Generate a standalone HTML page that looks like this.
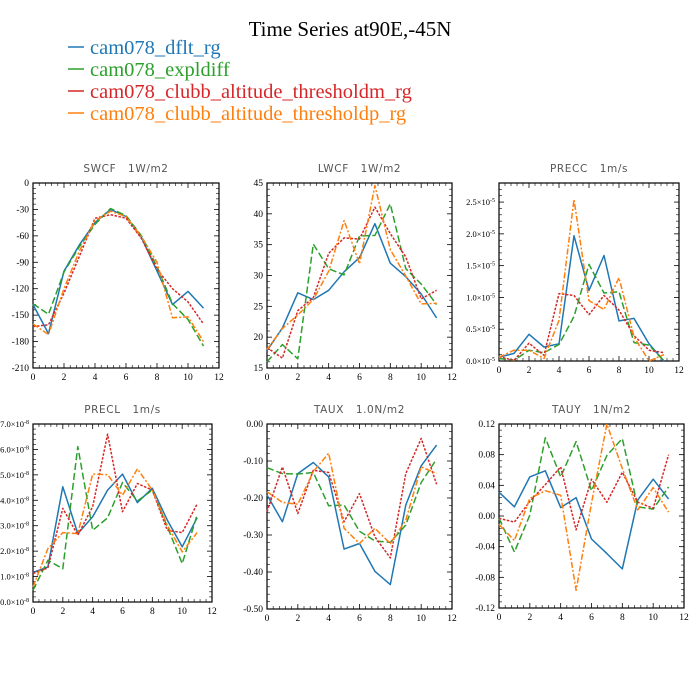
<!DOCTYPE html>
<html><head><meta charset="utf-8"><style>
html,body{margin:0;padding:0;background:#fff;}
svg{display:block;}
text{white-space:pre;}
</style></head><body>
<svg id="chart" width="700" height="700" xmlns="http://www.w3.org/2000/svg">
<text x="350" y="36" text-anchor="middle" font-family="Liberation Serif, serif" font-size="21" fill="#000">Time Series at90E,-45N</text>
<g font-family="Liberation Serif, serif" font-size="20.5">
<g><line x1="68" y1="47" x2="84" y2="47" stroke="#1f77b4" stroke-width="1.5"/><text x="90" y="54" fill="#1f77b4">cam078_dflt_rg</text></g>
<g><line x1="68" y1="69" x2="84" y2="69" stroke="#2ca02c" stroke-width="1.5"/><text x="90" y="76" fill="#2ca02c">cam078_expldiff</text></g>
<g><line x1="68" y1="91" x2="84" y2="91" stroke="#d62728" stroke-width="1.5"/><text x="90" y="98" fill="#d62728">cam078_clubb_altitude_thresholdm_rg</text></g>
<g><line x1="68" y1="113" x2="84" y2="113" stroke="#ff7f0e" stroke-width="1.5"/><text x="90" y="120" fill="#ff7f0e">cam078_clubb_altitude_thresholdp_rg</text></g>
</g>
</svg>
<script>
const months = [0,1,2,3,4,5,6,7,8,9,10,11];
const xTicks = [0,2,4,6,8,10,12];
const seriesNames = ['dflt','expldiff','thresholdm','thresholdp'];
const seriesColors = ['#1f77b4','#2ca02c','#d62728','#ff7f0e'];
const seriesDash = ['', '7,3', '2.5,1.5', '6,2,2,2'];

const swcfDflt = [-138,-171,-100,-70,-45,-30,-38,-62,-100,-138,-123,-142];
const swcfExpl = [-137,-149,-101,-72,-47,-29,-37,-60,-95,-137,-155,-185];
const swcfTm = [-163,-161,-125,-83,-40,-36,-40,-63,-98,-120,-135,-160];
const swcfTp = [-160,-172,-120,-77,-43,-32,-38,-61,-90,-153,-152,-180];
const swcfTicks = [0,-30,-60,-90,-120,-150,-180,-210];

const lwcfDflt = [17.8,21.5,27.2,26.1,27.6,30.6,32.9,38.4,32,29.8,27,23.1];
const lwcfExpl = [16,18.8,16.5,35.1,31.1,30.1,36.4,36.5,41.6,31.1,28.6,25.3];
const lwcfTm = [18.3,16.6,24.3,26.4,33.6,36.1,35.9,41.1,36.8,33,26.2,27.6];
const lwcfTp = [18,21.4,23.6,26.1,30.7,38.9,31.9,44.6,34.2,29.9,25.4,25.5];
const lwcfTicks = [15,20,25,30,35,40,45];

const preccDflt = [0.06,0.12,0.42,0.22,0.27,1.97,1.11,1.66,0.63,0.67,0.27,0];
const preccExpl = [0.04,0.01,0.17,0.13,0.26,0.70,1.52,1.07,1.09,0.29,0.25,0];
const preccTm = [0.07,0.01,0.28,0.09,1.06,1.03,0.73,1.03,0.80,0.40,0.17,0.13];
const preccTp = [0.06,0.17,0.17,0.04,0.64,2.54,0.95,0.81,1.31,0.38,0,0.1];
const preccTicks = [0,0.5,1.0,1.5,2.0,2.5];

const preclDflt = [1.16,1.38,4.53,2.69,3.35,4.40,5.03,3.91,4.47,3.22,2.17,3.31];
const preclExpl = [0.46,1.64,1.31,6.11,2.82,3.31,4.70,3.97,4.40,2.96,1.51,3.42];
const preclTm = [1.12,1.34,3.68,2.63,3.75,6.6,3.55,4.66,4.40,2.82,2.73,3.85];
const preclTp = [0.59,2.10,2.73,2.69,5.03,5.01,4.2,5.24,4.40,3.02,1.97,2.73];
const preclTicks = [0,1,2,3,4,5,6,7];

const tauxDflt = [-0.192,-0.264,-0.134,-0.104,-0.143,-0.338,-0.323,-0.398,-0.434,-0.219,-0.113,-0.057];
const tauxExpl = [-0.118,-0.134,-0.135,-0.131,-0.221,-0.219,-0.290,-0.316,-0.320,-0.273,-0.158,-0.095];
const tauxTm = [-0.237,-0.116,-0.242,-0.125,-0.131,-0.264,-0.188,-0.305,-0.362,-0.134,-0.039,-0.163];
const tauxTp = [-0.183,-0.212,-0.217,-0.129,-0.079,-0.282,-0.323,-0.282,-0.323,-0.26,-0.116,-0.134];
const tauxTicks = [0,-0.1,-0.2,-0.3,-0.4,-0.5];

const tauyDflt = [0.031,0.012,0.051,0.059,0.011,0.024,-0.030,-0.049,-0.069,0.021,0.048,0.022];
const tauyExpl = [-0.003,-0.047,0.001,0.102,0.051,0.097,0.033,0.079,0.101,0.012,0.009,0.038];
const tauyTm = [-0.003,-0.008,0.019,0.041,0.064,-0.018,0.048,0.018,0.057,0.018,0.010,0.080];
const tauyTp = [-0.011,-0.032,0.023,0.033,0.027,-0.097,0.017,0.12,0.062,0.008,0.037,0.005];
const tauyTicks = [0.12,0.08,0.04,0,-0.04,-0.08,-0.12];

const NS = 'http://www.w3.org/2000/svg';
const svg = document.getElementById('chart');
function mk(tag, attrs, parent){const e=document.createElementNS(NS,tag);for(const k in attrs)e.setAttribute(k,attrs[k]);parent.appendChild(e);return e;}

function panel(cfg){
  const g = mk('g',{},svg);
  
  
  const {L,R,T,B,ymin,ymax} = cfg;
  const xs = v => L + (v-0)/(12-0)*(R-L);
  const ys = v => B - (v-ymin)/(ymax-ymin)*(B-T);
  const t = mk('text',{x:(L+R)/2,y:T-11,'text-anchor':'middle','font-family':'DejaVu Sans, sans-serif','font-size':'10.5',fill:'#555','letter-spacing':'0.6','xml:space':'preserve'},g);
  
  
  t.textContent = cfg.title;
  const fr = mk('rect',{x:L,y:T,width:R-L,height:B-T,fill:'none',stroke:'#000','stroke-width':'1.2'},g);
  
  
  for(let i=0;i<xTicks.length;i++){
    const v=xTicks[i], x=xs(v);
    mk('line',{x1:x,y1:B,x2:x,y2:B-5,stroke:'#000','stroke-width':'0.8'},g);
    mk('line',{x1:x,y1:T,x2:x,y2:T+5,stroke:'#000','stroke-width':'0.8'},g);
    const lb=mk('text',{x:x,y:B+12,'text-anchor':'middle','font-family':'Liberation Serif, serif','font-size':'9.5',fill:'#000'},g);
    
    
    lb.textContent=v;
    if(i<xTicks.length-1){
      const step=(xTicks[i+1]-v)/5;
      for(let k=1;k<5;k++){const xm=xs(v+k*step);
        mk('line',{x1:xm,y1:B,x2:xm,y2:B-3,stroke:'#000','stroke-width':'0.6'},g);
        mk('line',{x1:xm,y1:T,x2:xm,y2:T+3,stroke:'#000','stroke-width':'0.6'},g);}
    }
  }
  const yt = cfg.ticks.slice().sort((a,b)=>a-b);
  for(let i=0;i<yt.length;i++){
    const v=yt[i], y=ys(v);
    mk('line',{x1:L,y1:y,x2:L+5,y2:y,stroke:'#000','stroke-width':'0.8'},g);
    mk('line',{x1:R,y1:y,x2:R-5,y2:y,stroke:'#000','stroke-width':'0.8'},g);
    const lb=mk('text',{x:L-4,y:y+3,'text-anchor':'end','font-family':'Liberation Serif, serif','font-size':cfg.exp?'8.5':'9.5',fill:'#000'},g);
    
    
    if(cfg.exp){
      lb.appendChild(document.createTextNode(v.toFixed(1)+'\u00d710'));
      const s=mk('tspan',{'font-size':'6','dy':'-3'},lb); s.textContent=cfg.exp;
    } else lb.textContent = cfg.fmt(v);
    const step=(i<yt.length-1)?(yt[i+1]-v)/5:(yt[1]-yt[0])/5;
    for(let k=1;k<5;k++){const vm=v+k*step; if(vm>ymax+1e-9)break; const ym=ys(vm);
      mk('line',{x1:L,y1:ym,x2:L+3,y2:ym,stroke:'#000','stroke-width':'0.6'},g);
      mk('line',{x1:R,y1:ym,x2:R-3,y2:ym,stroke:'#000','stroke-width':'0.6'},g);}
  }
  cfg.series.forEach((arr,si)=>{
    const d = arr.map((v,i)=>(i?'L':'M')+xs(months[i]).toFixed(1)+','+ys(v).toFixed(1)).join(' ');
    const p = mk('path',{d:d,fill:'none',stroke:seriesColors[si],'stroke-width':'1.5','stroke-linejoin':'round'},g);
    if(seriesDash[si]) p.setAttribute('stroke-dasharray',seriesDash[si]);
    
    
  });
}
const f0=v=>String(v), f2=v=>v.toFixed(2);
panel({name:'swcf',title:'SWCF   1W/m2',L:33,R:219,T:183,B:368,ymin:-210,ymax:0,ticks:swcfTicks,fmt:f0,series:[swcfDflt,swcfExpl,swcfTm,swcfTp]});
panel({name:'lwcf',title:'LWCF   1W/m2',L:267,R:452,T:183,B:368,ymin:15,ymax:45,ticks:lwcfTicks,fmt:f0,series:[lwcfDflt,lwcfExpl,lwcfTm,lwcfTp]});
panel({name:'precc',title:'PRECC   1m/s',L:499,R:679,T:183,B:361,ymin:0,ymax:2.8,ticks:preccTicks,exp:'-5',series:[preccDflt,preccExpl,preccTm,preccTp]});
panel({name:'precl',title:'PRECL   1m/s',L:33,R:212,T:424,B:602,ymin:0,ymax:7,ticks:preclTicks,exp:'-8',series:[preclDflt,preclExpl,preclTm,preclTp]});
panel({name:'taux',title:'TAUX   1.0N/m2',L:267,R:452,T:424,B:609,ymin:-0.5,ymax:0,ticks:tauxTicks,fmt:f2,series:[tauxDflt,tauxExpl,tauxTm,tauxTp]});
panel({name:'tauy',title:'TAUY   1N/m2',L:499,R:684,T:424,B:608,ymin:-0.12,ymax:0.12,ticks:tauyTicks,fmt:f2,series:[tauyDflt,tauyExpl,tauyTm,tauyTp]});
</script>
</body></html>
